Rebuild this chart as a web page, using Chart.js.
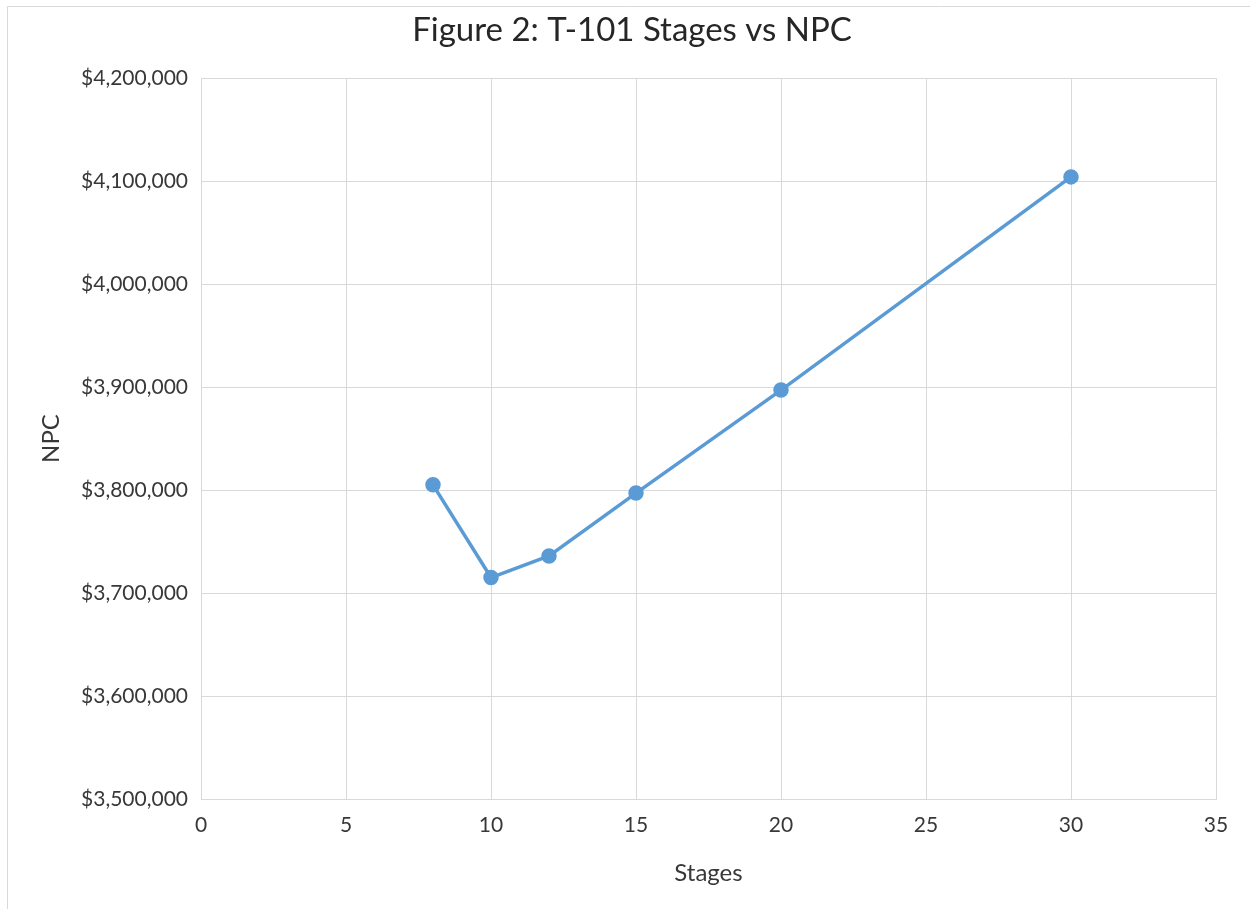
<!DOCTYPE html>
<html>
<head>
<meta charset="utf-8">
<title>T-101 Stages vs NPC</title>
<script src="https://cdn.jsdelivr.net/npm/chart.js@4"></script>
<style>
  html, body { margin: 0; padding: 0; background: #fff; }
  #wrap { position: relative; width: 1250px; height: 909px; }
</style>
</head>
<body>
<div id="wrap"><canvas id="myChart"></canvas></div>
<script>
  // values
  const stages = [8, 10, 12, 15, 20, 30];
  const npc = [3805000, 3715000, 3736000, 3797000, 3897000, 4104000];
  const xTicks = [0, 5, 10, 15, 20, 25, 30, 35];
  const yMin = 3500000, yMax = 4200000, yStep = 100000;
  const chartTitle = "Figure 2: T-101 Stages vs NPC";

  const FONT = "Lato, 'Open Sans', sans-serif";
  const gridColor = "#d9d9d9";
  const textColor = "#383838";

  // outer frame + title (title is not centred on the plot in the original)
  const frame = {
    id: "frame",
    afterDraw(chart) {
      const ctx = chart.ctx;
      ctx.save();
      ctx.strokeStyle = gridColor;
      ctx.lineWidth = 1;
      ctx.beginPath();
      ctx.moveTo(7.5, 909);
      ctx.lineTo(7.5, 6.5);
      ctx.lineTo(1250, 6.5);
      ctx.stroke();

      ctx.fillStyle = "#262626";
      ctx.font = "33px " + FONT;
      ctx.textAlign = "center";
      ctx.textBaseline = "alphabetic";
      ctx.fillText(chartTitle, 632, 41);
      ctx.restore();
    }
  };

  const config = {
    type: "scatter",
    data: {
      datasets: [
        {
          label: "NPC",
          data: stages.map((s, i) => ({ x: s, y: npc[i] })),
          showLine: true,
          borderColor: "#5b9bd5",
          backgroundColor: "#5b9bd5",
          borderWidth: 3.5,
          pointRadius: 6,
          pointHoverRadius: 6,
          tension: 0,
        },
      ],
    },
    options: {
      responsive: false,
      animation: false,
      devicePixelRatio: 1,
      layout: { padding: { left: 0, right: 34, top: 78, bottom: 0 } },
      plugins: {
        legend: { display: false },
        tooltip: { enabled: false },
        title: { display: false },
      },
      scales: {
        x: {
          type: "linear",
          min: 0,
          max: 35,
          afterBuildTicks: (scale) => { scale.ticks = xTicks.map(v => ({ value: v })); },
          afterFit: (scale) => { scale.height = 110; },
          grid: { color: gridColor, drawTicks: false },
          border: { color: gridColor },
          ticks: { color: textColor, padding: 14, font: { family: FONT, size: 21 } },
          title: {
            display: true,
            text: "Stages",
            color: textColor,
            font: { family: FONT, size: 24 },
            padding: { top: 0, bottom: 21 },
          },
        },
        y: {
          min: yMin,
          max: yMax,
          afterFit: (scale) => { scale.width = 201; },
          grid: { color: gridColor, drawTicks: false },
          border: { color: gridColor },
          ticks: {
            stepSize: yStep,
            color: textColor,
            padding: 13,
            font: { family: FONT, size: 21 },
            callback: (v) => "$" + v.toLocaleString("en-US"),
          },
          title: {
            display: true,
            text: "NPC",
            color: textColor,
            font: { family: FONT, size: 24 },
            padding: { top: 37, bottom: 0 },
          },
        },
      },
    },
    plugins: [frame],
  };

  const c = document.getElementById("myChart");
  c.width = 1250;
  c.height = 909;
  var myChart = new Chart(c, config);
</script>
</body>
</html>
